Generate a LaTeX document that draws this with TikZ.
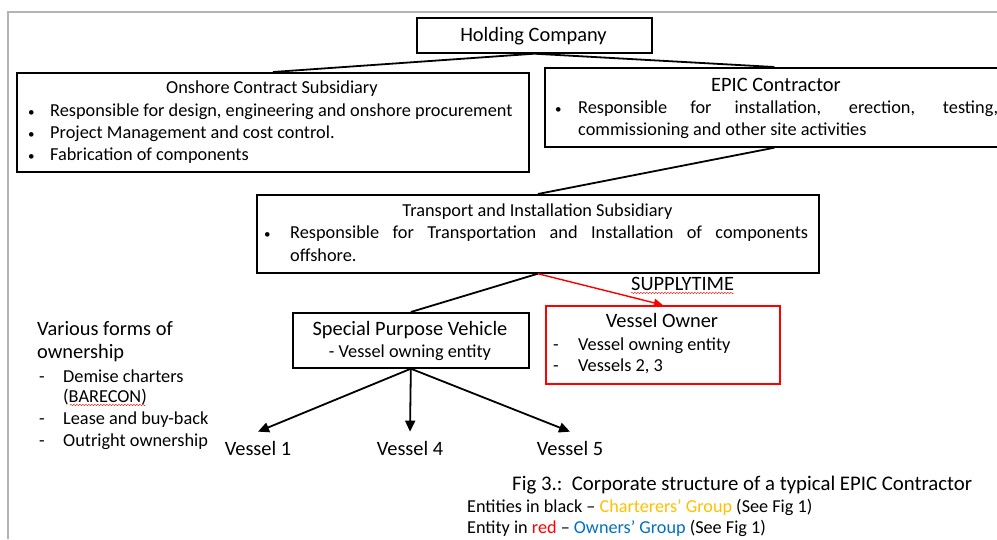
\documentclass[tikz,border=0pt]{standalone}
\usepackage{fontspec}
\setmainfont{Carlito}
\usetikzlibrary{arrows.meta,decorations.pathmorphing}

\definecolor{charter}{HTML}{FFC000}
\definecolor{owner}{HTML}{0070C0}
\definecolor{frame}{HTML}{B4B4B4}

\tikzset{
  box/.style={draw, line width=1.7pt, inner sep=0pt, anchor=north west},
  redbox/.style={box, draw=red},
  txt/.style={inner sep=0pt, font=\fontsize{18.3}{22}\selectfont},
  head/.style={inner sep=0pt, font=\fontsize{20.4}{24}\selectfont},
  legend/.style={inner sep=0pt, font=\fontsize{18.2}{22}\selectfont, anchor=base west},
  vessel/.style={head, inner ysep=9pt, anchor=base},
  link/.style={line width=1.8pt},
  arr/.style={link, -{Triangle[length=11pt,width=10pt]}},
  redlink/.style={line width=1.4pt, red, -{Triangle[length=9pt,width=8pt]}},
  squiggle/.style={red, line width=0.4pt, decorate,
    decoration={snake, amplitude=0.7pt, segment length=3pt}}
}
\newcommand{\bul}[1]{\makebox[#1][l]{\fontsize{13}{13}\selectfont\textbullet}}
\newcommand{\dsh}[1]{\makebox[#1][l]{-}}

\begin{document}
\begin{tikzpicture}[x=1pt,y=-1pt]
\useasboundingbox (0,0) rectangle (997,539);
\draw[frame, line width=2pt] (8,539) -- (8,12) -- (997,12);

% boxes
\node[box, minimum width=235pt, minimum height=35pt] (holding) at (416,17) {};
\node[box, minimum width=512pt, minimum height=99pt] (onshore) at (16,72) {};
\node[box, minimum width=459pt, minimum height=79pt] (epic) at (544,67) {};
\node[box, minimum width=562pt, minimum height=78pt] (transport) at (256,194) {};
\node[box, minimum width=236pt, minimum height=55pt] (spv) at (292,312) {};
\node[redbox, minimum width=234pt, minimum height=78pt] (vowner) at (545,305) {};

% texts in the boxes
\node[head, anchor=base] (holdingT) at (533.5,41) {Holding Company};

\node[txt, anchor=base] (onshoreT) at (272,93) {Onshore Contract Subsidiary};
\foreach \t [count=\i] in {{Responsible for design, engineering and onshore procurement},
    {Project Management and cost control.}, {Fabrication of components}}
  \node[txt, anchor=base west] (onshore\i) at (28,94+22*\i) {\bul{22pt}\t};

\node[head, anchor=base] (epicT) at (776,91) {EPIC Contractor};
\node[txt, anchor=base west] (epic1) at (555,113)
  {\bul{23pt}\makebox[420pt][s]{Responsible for installation, erection, testing,}};
\node[txt, anchor=base west] (epic2) at (578,135) {commissioning and other site activities};

\node[txt, anchor=base] (transportT) at (537.5,216) {Transport and Installation Subsidiary};
\node[txt, anchor=base west] (transport1) at (264,238)
  {\bul{26pt}\makebox[518pt][s]{Responsible for Transportation and Installation of components}};
\node[txt, anchor=base west] (transport2) at (290,261) {offshore.};

\node[head, anchor=base] (spvT) at (410,335) {Special Purpose Vehicle};
\node[txt, anchor=base] (spv1) at (410,357) {- Vessel owning entity};

\node[head, anchor=base] (vownerT) at (662,327) {Vessel Owner};
\foreach \t [count=\i] in {{Vessel owning entity}, {Vessels 2, 3}}
  \node[txt, anchor=base west] (vowner\i) at (553,329+21*\i) {\dsh{25pt}\t};

\node[head, anchor=base west] (supply) at (631,290) {SUPPLYTIME};
\draw[squiggle] ([yshift=-3pt]supply.base west) -- ([yshift=-3pt]supply.base east);

% connectors
\draw[link] (holding.south) -- (onshore.north);
\draw[link] (holding.south) -- (epic.north);
\draw[link] (epic.south) -- (transport.north);
\draw[link] (transport.south) -- (spv.north);
\draw[redlink] (transport.south) -- (vowner.north);

% vessels
\node[vessel] (v1) at (258,455) {Vessel 1};
\node[vessel] (v4) at (410,455) {Vessel 4};
\node[vessel] (v5) at (570,455) {Vessel 5};
\foreach \v in {v1,v4,v5}
  \draw[arr] (spv.south) -- (\v.north);

% ownership note
\node[head, anchor=base west] (forms1) at (37,335) {Various forms of};
\node[head, anchor=base west] (forms2) at (37,358) {ownership};
\node[txt, anchor=base west] (forms3) at (39,382) {\dsh{24pt}Demise charters};
\node[txt, anchor=base west] (forms4) at (63,402) {(BARECON)};
\node[txt, anchor=base west] (forms5) at (39,424) {\dsh{24pt}Lease and buy-back};
\node[txt, anchor=base west] (forms6) at (39,446) {\dsh{24pt}Outright ownership};
\draw[squiggle] (70,405) -- (146,405);

% caption
\node[inner sep=0pt, font=\fontsize{20.8}{24}\selectfont, anchor=base west] (caption) at (512,490)
  {Fig 3.:\ \ Corporate structure of a typical EPIC Contractor};
\node[legend] (legend1) at (467,512)
  {Entities in black -- \textcolor{charter}{Charterers’ Group} (See Fig 1)};
\node[legend] (legend2) at (467,533)
  {Entity in \textcolor{red}{red} -- \textcolor{owner}{Owners’ Group} (See Fig 1)};
\end{tikzpicture}
\end{document}
